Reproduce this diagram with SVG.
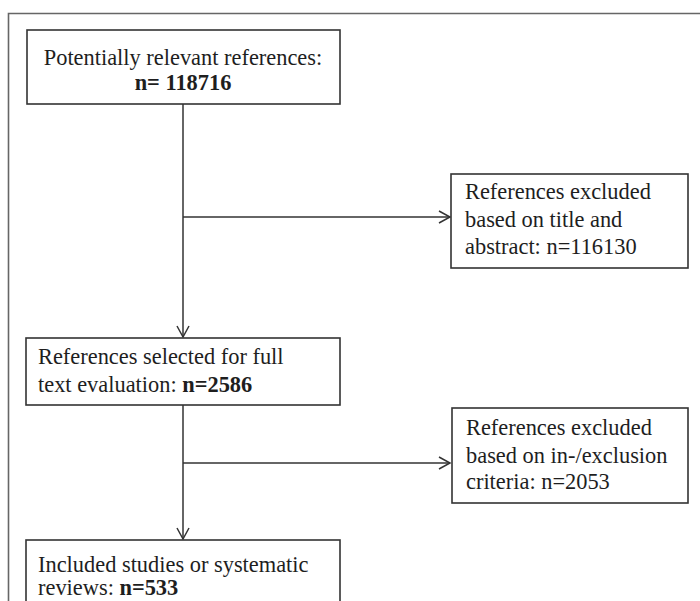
<svg xmlns="http://www.w3.org/2000/svg" width="700" height="601" viewBox="0 0 700 601">
<defs>
<style>
.box{fill:#fff;stroke:#333;stroke-width:1.6}
.t{font-family:"Liberation Serif","Times New Roman",serif;font-size:22.4px;fill:#1e1e1e}
.b{font-weight:bold}
.c{fill:none;stroke:#333;stroke-width:1.5}
</style>
<marker id="ah" markerWidth="14" markerHeight="16" refX="12" refY="7" orient="auto" markerUnits="userSpaceOnUse">
<path d="M1,1 L12,7 L1,13" fill="none" stroke="#333" stroke-width="1.5"/>
</marker>
</defs>
<rect width="700" height="601" fill="#fff"/>
<path d="M8.5,620 V13.5 H720" fill="none" stroke="#666" stroke-width="1.6"/>
<g id="connectors">
<line class="c" x1="183" y1="104" x2="183" y2="337" marker-end="url(#ah)"/>
<line class="c" x1="183" y1="217" x2="450" y2="217" marker-end="url(#ah)"/>
<line class="c" x1="183" y1="405" x2="183" y2="539" marker-end="url(#ah)"/>
<line class="c" x1="183" y1="463" x2="450" y2="463" marker-end="url(#ah)"/>
</g>
<g id="n1">
<rect class="box" x="27" y="30" width="313" height="74"/>
<text class="t" x="183" y="65" text-anchor="middle">Potentially relevant references:</text>
<text class="t b" x="183" y="90" text-anchor="middle">n= 118716</text>
</g>
<g id="n2">
<rect class="box" x="451" y="174" width="237" height="94"/>
<text class="t" x="465" y="199">References excluded</text>
<text class="t" x="465" y="227">based on title and</text>
<text class="t" x="465" y="254">abstract: n=116130</text>
</g>
<g id="n3">
<rect class="box" x="26" y="338" width="314" height="67"/>
<text class="t" x="38" y="364">References selected for full</text>
<text class="t" x="38" y="392">text evaluation: <tspan class="b">n=2586</tspan></text>
</g>
<g id="n4">
<rect class="box" x="452" y="408" width="236" height="95"/>
<text class="t" x="466" y="435">References excluded</text>
<text class="t" x="466" y="463">based on in-/exclusion</text>
<text class="t" x="466" y="489">criteria: n=2053</text>
</g>
<g id="n5">
<rect class="box" x="26" y="540" width="314" height="80"/>
<text class="t" x="38" y="572">Included studies or systematic</text>
<text class="t" x="38" y="595">reviews: <tspan class="b">n=533</tspan></text>
</g>
</svg>
